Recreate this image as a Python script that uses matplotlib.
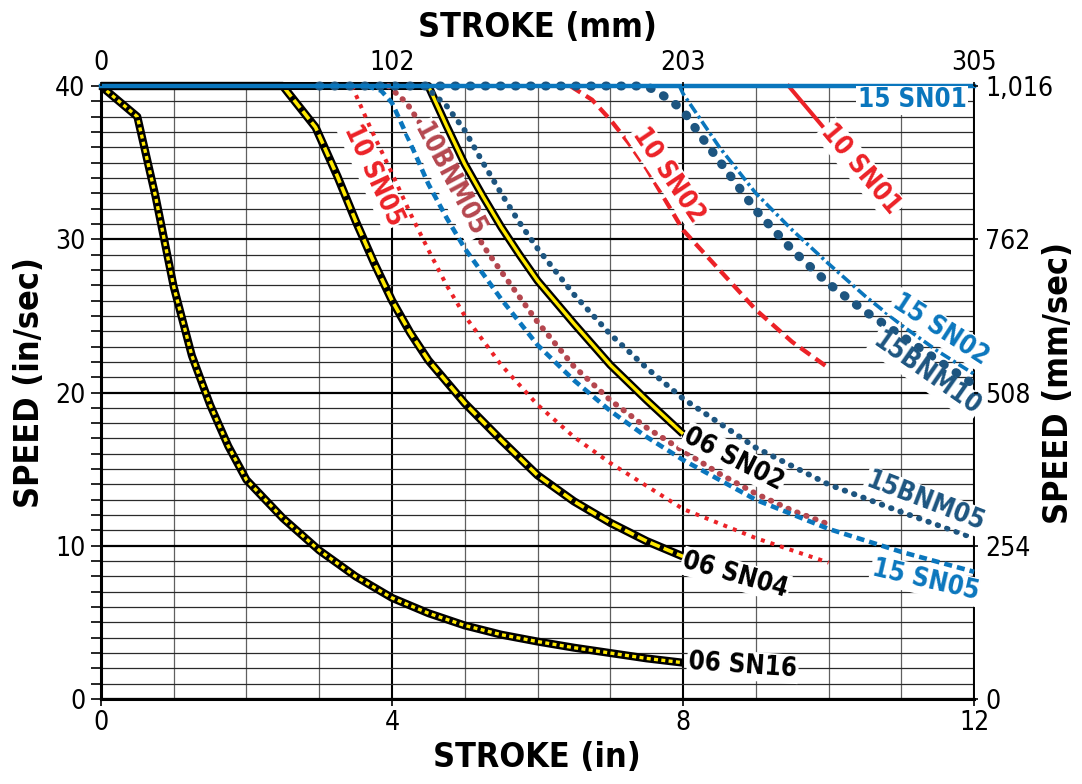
import matplotlib
matplotlib.use("Agg")
import matplotlib.pyplot as plt
import matplotlib.font_manager as fm

# look for a condensed face, the chart uses a narrow grotesque
cond = None
for f in fm.fontManager.ttflist:
    st = str(f.stretch)
    if 'Narrow' in f.name or 'Condensed' in f.name or st in ('condensed', 'semi-condensed', 1, 2, 3, 4):
        cond = (f.name, f.stretch)
        break
if cond:
    plt.rcParams['font.family'] = [cond[0], 'DejaVu Sans']
    plt.rcParams['font.stretch'] = cond[1]
    k = 1.0
else:
    plt.rcParams['font.family'] = ['DejaVu Sans']
    k = 0.8

# stroke (in) / speed (in/sec)
sn16_x = [0, 0.5, 0.75, 1.0, 1.25, 1.5, 1.75, 2.0, 2.5, 3.0, 3.5, 4.0, 4.5, 5.0, 5.5, 6.0, 6.5, 7.0, 7.5, 8.0]
sn16_y = [40, 38.0, 32.8, 26.9, 22.4, 19.2, 16.5, 14.3, 11.8, 9.7, 8.0, 6.6, 5.6, 4.8, 4.2, 3.75, 3.35, 3.0, 2.65, 2.37]

sn04_x = [0, 2.5, 2.95, 3.25, 3.5, 3.75, 4.0, 4.25, 4.5, 5.0, 5.5, 6.0, 6.5, 7.0, 7.5, 8.0]
sn04_y = [40, 40, 37.3, 34.1, 31.2, 28.5, 26.0, 23.9, 22.1, 19.3, 16.9, 14.6, 12.9, 11.5, 10.3, 9.3]

sn02_x = [0, 4.5, 4.75, 5.0, 5.25, 5.5, 5.75, 6.0, 6.5, 7.0, 7.5, 8.0]
sn02_y = [40, 40, 37.4, 34.9, 32.8, 30.8, 29.0, 27.3, 24.5, 21.8, 19.5, 17.3]

r_sn05_x = [3.45, 3.7, 4.0, 4.25, 4.5, 4.75, 5.0, 5.5, 6.0, 6.5, 7.0, 7.5, 8.0, 9.0, 10.0]
r_sn05_y = [40, 37.3, 34.3, 31.7, 29.3, 27.0, 25.0, 21.8, 19.2, 17.1, 15.4, 13.9, 12.4, 10.5, 8.9]

bnm05_10_x = [3.95, 4.2, 4.45, 4.75, 5.0, 5.25, 5.5, 6.0, 6.5, 7.0, 7.5, 8.0, 8.5, 9.0, 9.5, 10.0]
bnm05_10_y = [40, 38.9, 37.1, 34.2, 31.8, 29.6, 27.9, 24.6, 21.7, 19.5, 17.7, 16.2, 14.7, 13.4, 12.3, 11.4]

b_sn05_x = [3.65, 3.85, 4.0, 4.25, 4.5, 4.75, 5.0, 5.5, 6.0, 6.5, 7.0, 7.5, 8.0, 9.0, 10.0, 11.0, 12.0]
b_sn05_y = [40, 39.7, 38.9, 36.3, 33.6, 31.4, 29.4, 26.1, 23.1, 20.8, 18.8, 17.1, 15.6, 13.0, 11.1, 9.6, 8.3]

bnm05_15_x = [4.45, 4.75, 5.0, 5.25, 5.5, 5.75, 6.0, 6.5, 7.0, 7.5, 8.0, 9.0, 10.0, 11.0, 12.0]
bnm05_15_y = [40, 38.7, 37.1, 35.0, 33.0, 31.1, 29.4, 26.4, 23.8, 21.6, 19.6, 16.4, 14.0, 12.2, 10.5]

r_sn02_x = [6.45, 6.75, 7.0, 7.25, 7.5, 8.0, 8.5, 9.0, 9.5, 10.0]
r_sn02_y = [40, 39.1, 37.8, 36.3, 34.6, 30.6, 28.0, 25.4, 23.3, 21.6]

r_sn01_x = [9.45, 10.0]
r_sn01_y = [40, 36.9]

b_sn02_x = [7.95, 8.0, 8.5, 9.0, 9.5, 10.0, 10.5, 11.0, 11.5, 12.0]
b_sn02_y = [40, 39.5, 36.0, 33.0, 30.6, 28.4, 26.3, 24.4, 22.7, 21.2]

bnm10_x = [3.0, 7.5, 7.65, 7.82, 8.0, 8.25, 8.5, 9.0, 9.5, 10.0, 10.5, 11.0, 11.5, 12.0]
bnm10_y = [40, 40, 39.6, 39.1, 38.4, 36.7, 35.1, 31.9, 29.3, 27.1, 25.3, 23.7, 22.1, 20.5]

b_sn01_x = [0, 12]
b_sn01_y = [40, 40]

mm_ticks = ['0', '102', '203', '305']
mms_ticks = ['0', '254', '508', '762', '1,016']

RED = '#ec2227'
BLUE = '#0a76bd'
NAVY = '#1d5580'
BROWN = '#b5474f'
YEL = '#ffe800'

fig = plt.figure(figsize=(10.82, 7.84), dpi=100)
ax = fig.add_axes([0.0933, 0.1084, 0.807, 0.7819])
ax.set_xlim(0, 12)
ax.set_ylim(0, 40)

ax.set_xticks([0, 4, 8, 12])
ax.set_xticks(range(13), minor=True)
ax.set_yticks([0, 10, 20, 30, 40])
ax.set_yticks(range(41), minor=True)
ax.grid(which='minor', axis='x', color='#606060', lw=0.9)
ax.grid(which='major', axis='x', color='black', lw=1.5)
ax.grid(which='minor', axis='y', color='#2a2a2a', lw=0.9)
ax.grid(which='major', axis='y', color='black', lw=1.6)
ax.set_axisbelow(True)
ax.tick_params(axis='x', which='major', direction='out', length=5, width=1.2, labelsize=19 * k, pad=3)
ax.tick_params(axis='x', which='minor', length=0)
ax.tick_params(axis='y', which='both', direction='out', length=7, width=1.2, labelsize=19 * k, pad=4)
for s in ['left', 'bottom']:
    ax.spines[s].set_linewidth(2.2)
for s in ['right', 'top']:
    ax.spines[s].set_linewidth(1.4)

# 06 series: black casing with yellow core
ax.plot(sn16_x, sn16_y, color='black', lw=5.8, solid_capstyle='butt', clip_on=False, zorder=3)
ax.plot(sn16_x, sn16_y, color=YEL, lw=2.4, ls=(0, (1.2, 1.0)), dash_capstyle='butt', clip_on=False, zorder=3)
ax.plot(sn04_x, sn04_y, color='black', lw=6.0, solid_capstyle='butt', clip_on=False, zorder=3)
ax.plot(sn04_x, sn04_y, color=YEL, lw=2.6, ls=(0, (2.8, 1.15)), dash_capstyle='butt', clip_on=False, zorder=3)
ax.plot(sn02_x, sn02_y, color='black', lw=5.8, solid_capstyle='butt', clip_on=False, zorder=3)
ax.plot(sn02_x, sn02_y, color=YEL, lw=2.4, solid_capstyle='butt', clip_on=False, zorder=3)

ax.plot(r_sn05_x, r_sn05_y, color=RED, lw=2.9, ls=(0, (1, 1.5)), dash_capstyle='butt', clip_on=False, zorder=3)
ax.plot(bnm05_10_x, bnm05_10_y, color=BROWN, lw=4.2, ls=(0, (0.1, 1.55)), dash_capstyle='round', clip_on=False, zorder=3)
ax.plot(b_sn05_x, b_sn05_y, color=BLUE, lw=3.3, ls=(0, (1.75, 1.1)), dash_capstyle='butt', clip_on=False, zorder=3)
ax.plot(bnm05_15_x, bnm05_15_y, color=NAVY, lw=4.2, ls=(0, (0.1, 1.6)), dash_capstyle='round', clip_on=False, zorder=3)
ax.plot(r_sn02_x, r_sn02_y, color=RED, lw=3.1, ls=(0, (2.8, 1.5)), dash_capstyle='butt', clip_on=False, zorder=3)
ax.plot(r_sn01_x, r_sn01_y, color=RED, lw=2.9, clip_on=False, zorder=3)
ax.plot(b_sn02_x, b_sn02_y, color=BLUE, lw=2.6, ls=(0, (3, 1, 0.8, 1)), dash_capstyle='butt', clip_on=False, zorder=3)
ax.plot(bnm10_x, bnm10_y, color=NAVY, lw=6.5, ls=(0, (0.1, 1.57)), dash_capstyle='round', clip_on=False, zorder=3)
ax.plot(b_sn01_x, b_sn01_y, color=BLUE, lw=3.2, clip_on=False, zorder=4)

# curve labels
labels = [
    ('15 SN01', 11.15, 39.07, 0, BLUE),
    ('10 SN01', 10.44, 34.57, -50, RED),
    ('10 SN02', 7.80, 34.2, -56, RED),
    ('15 SN02', 11.53, 24.1, -33, BLUE),
    ('15BNM10', 11.34, 21.2, -35, NAVY),
    ('06 SN02', 8.7, 15.66, -27, 'black'),
    ('15BNM05', 11.33, 12.87, -21, NAVY),
    ('06 SN04', 8.72, 8.09, -16, 'black'),
    ('15 SN05', 11.33, 7.72, -13, BLUE),
    ('06 SN16', 8.82, 2.17, -4, 'black'),
    ('10 SN05', 3.74, 34.2, -65, RED),
    ('10BNM05', 4.78, 33.86, -62, BROWN),
]
for txt, x, y, rot, c in labels:
    ax.text(x, y, txt, color=c, fontsize=18.5 * k, fontweight='bold', rotation=rot,
            rotation_mode='anchor', ha='center', va='center', zorder=6,
            bbox=dict(boxstyle='square,pad=0.06', fc='white', ec='none'))

# top axis in mm
ax_t = ax.twiny()
ax_t.set_xlim(0, 12)
ax_t.set_xticks([0, 4, 8, 12], mm_ticks)
ax_t.tick_params(axis='x', direction='out', length=3, width=1.2, labelsize=19 * k, pad=4)

# right axis in mm/sec
ax_r = ax.twinx()
ax_r.set_ylim(0, 40)
ax_r.set_yticks([0, 10, 20, 30, 40], mms_ticks)
ax_r.tick_params(axis='y', direction='out', length=3, width=1.2, labelsize=19 * k, pad=5)
for a in (ax_t, ax_r):
    for s in a.spines.values():
        s.set_visible(False)

fig.text(0.4963, 0.9643, 'STROKE (mm)', fontsize=24.5 * k, fontweight='bold', ha='center', va='center')
fig.text(0.4963, 0.0344, 'STROKE (in)', fontsize=24.5 * k, fontweight='bold', ha='center', va='center')
fig.text(0.0277, 0.5115, 'SPEED (in/sec)', fontsize=24.5 * k, fontweight='bold', ha='center', va='center', rotation=90)
fig.text(0.978, 0.5115, 'SPEED (mm/sec)', fontsize=24.5 * k, fontweight='bold', ha='center', va='center', rotation=90)

fig.savefig('out.png', dpi=100)
